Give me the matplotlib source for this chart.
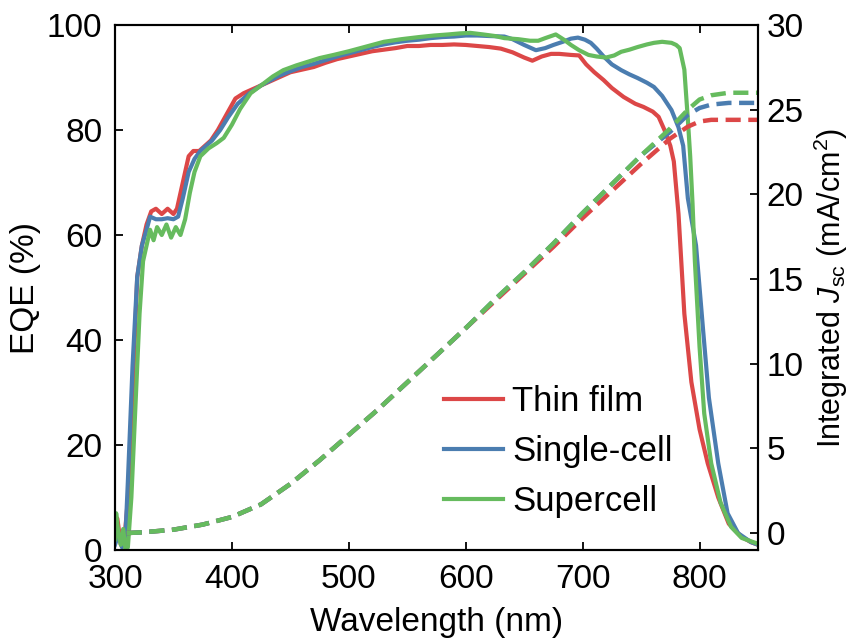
import matplotlib
matplotlib.use('Agg')
from matplotlib import pyplot as plt

# --- data ---

LABELS = ['Thin film', 'Single-cell', 'Supercell']
COLORS = ['#dc4747', '#4b7db0', '#66bb5e']

# EQE (%) vs wavelength (nm)
thin_wl = [300, 302, 305, 308, 312, 316, 319, 323, 327, 331, 335, 340, 345, 350, 353,
           358, 363, 367, 372, 377, 382, 388, 393, 398, 403, 410, 420, 430, 440, 450,
           460, 470, 480, 490, 500, 510, 520, 530, 540, 550, 560, 570, 580, 590, 600,
           610, 620, 630, 640, 650, 657, 665, 673, 680, 690, 697, 703, 710, 718, 725,
           735, 745, 752, 760, 765, 770, 775, 778, 782, 787, 793, 800, 807, 816, 825,
           836, 844, 850]
thin_eqe = [3, 6, 1, 2, 12, 35, 52, 58, 62, 64.5, 65, 64, 65, 64, 65,
            70, 75, 76, 76, 77, 78, 80, 82, 84, 86, 87, 88, 89, 90, 91,
            91.5, 92, 92.8, 93.5, 94, 94.5, 95, 95.3, 95.6, 96, 96, 96.2, 96.2, 96.3, 96.2,
            96, 95.8, 95.5, 94.8, 93.8, 93.2, 94, 94.5, 94.5, 94.3, 94.2, 92.5, 91, 89.5, 88,
            86.3, 85, 84.4, 83.5, 82.5, 80, 77, 74, 64, 45, 32, 23, 16.5, 10, 5,
            2.5, 1.5, 1]

single_wl = [300, 303, 306, 309, 311, 315, 319, 323, 327, 330, 335, 340, 345, 350, 354,
             358, 363, 368, 373, 378, 383, 390, 397, 405, 415, 425, 440, 450, 460, 470,
             480, 490, 500, 510, 520, 530, 540, 550, 560, 570, 580, 590, 600, 610, 620,
             633, 640, 650, 660, 668, 675, 683, 690, 696, 702, 707, 712, 718, 725, 733,
             740, 747, 755, 761, 768, 776, 782, 786, 790, 797, 803, 808, 816, 824, 833,
             844, 850]
single_eqe = [1, 3, 0.5, 3, 13, 35, 52, 58, 61, 63.5, 63, 63, 63.2, 63, 63.5,
              67, 72, 74.5, 76, 77, 78, 80, 82.5, 85, 87, 88.5, 90.3, 91.2, 92, 92.6,
              93.3, 94, 94.6, 95.2, 95.8, 96.3, 96.7, 97, 97.2, 97.5, 97.7, 97.8, 98, 98, 97.9,
              97.8, 97.3, 96.2, 95.2, 95.6, 96.2, 96.8, 97.4, 97.6, 97.2, 96.6, 95.5, 94, 92.5, 91.4,
              90.6, 89.9, 89, 88.2, 86.5, 83.8, 80.5, 77, 67, 58, 42, 29, 16.5, 7, 3.2,
              1.5, 1]

super_wl = [300, 301, 303, 305, 307, 309, 311, 314, 318, 321, 324, 327, 330, 333, 336,
            340, 344, 348, 352, 356, 360, 364, 368, 373, 380, 387, 393, 400, 407, 416,
            425, 435, 444, 455, 465, 475, 487, 500, 510, 520, 530, 545, 560, 573, 585,
            595, 604, 615, 625, 633, 645, 655, 662, 668, 677, 684, 690, 697, 705, 712,
            720, 727, 733, 740, 747, 755, 761, 768, 776, 780, 783, 787, 790, 792, 794,
            796, 800, 804, 810, 818, 827, 836, 846, 850]
super_eqe = [2, 7, 3, 1, 4, 0, 0.5, 10, 30, 45, 55, 58, 61, 59, 61.5,
             60, 62, 59.5, 61.5, 60, 63, 68, 72, 75, 76.5, 77.5, 78.5, 81, 84, 87,
             88.5, 90.2, 91.4, 92.3, 93, 93.7, 94.3, 95, 95.6, 96.2, 96.8, 97.3, 97.7, 98, 98.2,
             98.4, 98.5, 98.2, 97.9, 97.5, 97.3, 97, 97, 97.5, 98.2, 97.2, 96.2, 95.2, 94.3, 94,
             93.8, 94.2, 94.9, 95.3, 95.8, 96.3, 96.6, 96.8, 96.6, 96.2, 95.6, 91.5, 82, 75, 66,
             55, 38.7, 26, 16.5, 9, 4.4, 2.3, 1.5, 1.2]

# integrated Jsc (mA/cm2) vs wavelength (nm)
jsc_wl = [310, 325, 350, 375, 400, 425, 450, 475, 500, 525, 550, 575, 600, 625, 650,
          675, 700, 725, 750, 775, 790, 800, 810, 825, 850]
thin_jsc = [0, 0.05, 0.2, 0.5, 0.95, 1.7, 2.9, 4.3, 5.8, 7.3, 8.9, 10.5, 12.1, 13.7, 15.3,
            16.9, 18.6, 20.2, 21.8, 23.3, 24.0, 24.3, 24.4, 24.4, 24.4]
single_jsc = [0, 0.05, 0.2, 0.5, 0.95, 1.7, 2.9, 4.3, 5.8, 7.3, 8.9, 10.5, 12.1, 13.8, 15.4,
              17.1, 18.9, 20.6, 22.3, 23.7, 24.7, 25.1, 25.3, 25.4, 25.4]
super_jsc = [0, 0.05, 0.2, 0.5, 0.95, 1.7, 2.9, 4.3, 5.8, 7.3, 8.9, 10.5, 12.1, 13.8, 15.4,
             17.1, 18.9, 20.6, 22.3, 23.9, 25.0, 25.6, 25.85, 26.0, 26.0]

# --- style ---

plt.rcParams['font.family'] = ['Liberation Sans', 'DejaVu Sans']
plt.rcParams['font.size'] = 24
plt.rcParams['mathtext.fontset'] = 'custom'
plt.rcParams['mathtext.rm'] = 'Liberation Sans'
plt.rcParams['mathtext.it'] = 'Liberation Sans:italic'
plt.rcParams['axes.linewidth'] = 1.5

fig = plt.figure(figsize=(8.53, 6.41), dpi=100)
ax = fig.add_axes([115 / 853, 91 / 641, 643 / 853, 525 / 641])
ax2 = ax.twinx()

eqe_sets = [(thin_wl, thin_eqe), (single_wl, single_eqe), (super_wl, super_eqe)]
jsc_sets = [thin_jsc, single_jsc, super_jsc]

for (wl, eqe), color, label in zip(eqe_sets, COLORS, LABELS):
    ax.plot(wl, eqe, color=color, lw=3, label=label, solid_joinstyle='round')

for jsc, color in zip(jsc_sets, COLORS):
    ax2.plot(jsc_wl, jsc, color=color, lw=3.2, dashes=(3.4, 1.7))

ax.set_xlim(300, 850)
ax.set_ylim(0, 100)
ax2.set_ylim(-1, 30)
ax.set_xticks([300, 400, 500, 600, 700, 800])
ax.set_yticks([0, 20, 40, 60, 80, 100])
ax2.set_yticks([0, 5, 10, 15, 20, 25, 30])

ax.tick_params(direction='in', length=6, width=1.3, top=True, right=False)
ax.tick_params(axis='x', pad=10)
ax.tick_params(axis='y', pad=9)
ax2.tick_params(direction='in', length=6, width=1.3, pad=6)

ax.set_xlabel('Wavelength (nm)', labelpad=9)
ax.set_ylabel('EQE (%)', labelpad=4)
ax2.set_ylabel(r'Integrated $J_{\mathrm{sc}}$ (mA/cm$^2$)', fontsize=22)
ax2.yaxis.set_label_coords(1.083, 0.5)

ax.legend(loc='lower left', bbox_to_anchor=(0.512, 0.06), frameon=False,
          handlelength=1.7, handletextpad=0.25, labelspacing=0.5,
          borderpad=0, borderaxespad=0, fontsize=25)

fig.savefig('out.png', dpi=100)
